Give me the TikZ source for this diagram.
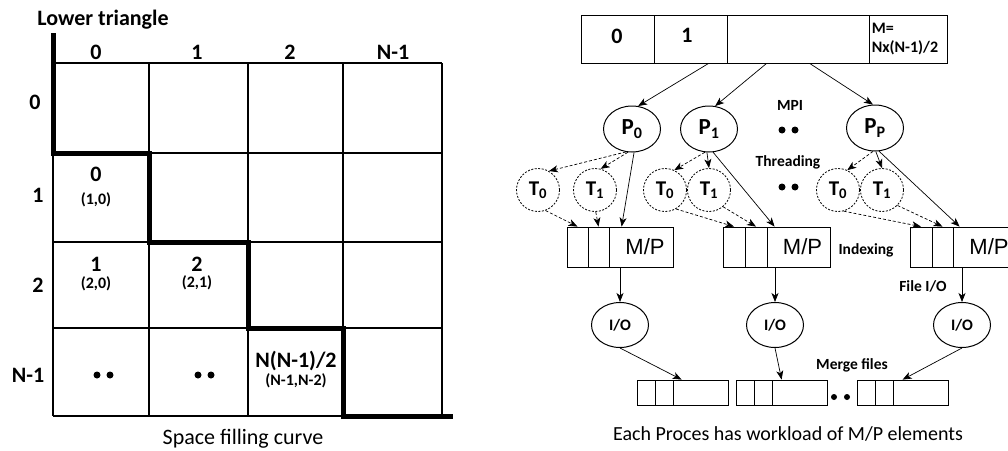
\documentclass[tikz,border=0pt]{standalone}
\usepackage{fontspec}
\setmainfont{Carlito}
\newfontfamily\arialfont{Liberation Sans}
\usetikzlibrary{arrows.meta,shapes.geometric}

\newcommand{\fsz}[1]{\fontsize{#1}{#1}\selectfont}
% a cell of an array: name, left, right, top, bottom, text
\newcommand{\arrcell}[6]{%
  \node[cell, minimum width={#3-#2}, minimum height={#5-#4}] (#1)
    at ({(#2+#3)/2},{(#4+#5)/2}) {#6};}
% two filled dots side by side
\newcommand{\dotpair}[4]{%
  \fill (#1,#3) circle[radius=#4]; \fill (#2,#3) circle[radius=#4];}

\begin{document}
\begin{tikzpicture}[x=1pt,y=-1pt,
  lbl/.style={font=\fsz{22}\bfseries, inner sep=0pt},
  sml/.style={font=\fsz{16}\bfseries, inner sep=0pt},
  note/.style={font=\fsz{15.5}\bfseries, inner sep=0pt},
  caption/.style={font=\fsz{22}, inner sep=0pt, anchor=base},
  gridline/.style={line width=1.4pt},
  sfc/.style={line width=5pt, line join=miter},
  proc/.style={ellipse, draw, line width=1pt, minimum width=57pt,
    minimum height=46pt, inner sep=0pt, font=\fsz{23}\bfseries},
  thr/.style={circle, draw, line width=0.8pt, dash pattern=on 2pt off 1.5pt,
    minimum size=43pt, inner sep=0pt, font=\fsz{21}\bfseries},
  iobub/.style={ellipse, draw, line width=1pt, minimum width=57pt,
    minimum height=45pt, inner sep=0pt, font=\fsz{16}\bfseries},
  cell/.style={rectangle, draw, line width=0.8pt, inner sep=0pt},
  arr/.style={-{Stealth[length=9pt,width=7pt,inset=2.5pt]}, line width=0.7pt},
  darr/.style={arr, dash pattern=on 3pt off 2pt},
]
\useasboundingbox (0,0) rectangle (1008,450);

% ---------------- lower triangle grid ----------------
\foreach \yy in {63,153,242,328,416} \draw[gridline] (53,\yy) -- (442,\yy);
\foreach \xx in {53,149,248,343,442} \draw[gridline] (\xx,63) -- (\xx,416);
\draw[sfc] (53,33) -- (53,153) -- (149,153) -- (149,242) -- (248,242)
  -- (248,328) -- (343,328) -- (343,416) -- (453,416);

\node[lbl] (title) at (103,20) {Lower triangle};
\node[lbl] (c0) at (96,52) {0};
\node[lbl] (c1) at (197,52) {1};
\node[lbl] (c2) at (290,52) {2};
\node[lbl] (c3) at (393,52) {N-1};
\node[lbl] (r0) at (35,102) {0};
\node[lbl] (r1) at (38,195) {1};
\node[lbl] (r2) at (38,285) {2};
\node[lbl] (r3) at (28,375) {N-1};

\node[lbl] (e10) at (96,174) {0};
\node[sml] (i10) at (96,200) {(1,0)};
\node[lbl] (e20) at (96,264) {1};
\node[sml] (i20) at (96,284) {(2,0)};
\node[lbl] (e21) at (197,264) {2};
\node[sml] (i21) at (197,283) {(2,1)};
\node[lbl] (eN) at (296,361) {N(N-1)/2};
\node[sml] (iN) at (296,381) {(N-1,N-2)};
\dotpair{97}{110}{375}{3.5}
\dotpair{198}{211}{375}{3.5}

\node[caption] (sfcap) at (243,444) {Space filling curve};

% ---------------- element array ----------------
\arrcell{top1}{581}{654}{15}{63}{}
\arrcell{top2}{654}{727}{15}{63}{}
\arrcell{top3}{727}{869}{15}{63}{}
\arrcell{top4}{869}{947}{15}{63}{}
\node[lbl] (t0) at (617,36) {0};
\node[lbl] (t1) at (687,35) {1};
\node[note, anchor=west, align=left, font=\fontsize{16}{19}\selectfont\bfseries]
  (mlab) at ([xshift=3]top4.west) {M=\\Nx(N-1)/2};

% ---------------- processes ----------------
\node[proc] (P0) at (632,129) {P\textsubscript{0}};
\node[proc] (P1) at (709,129) {P\textsubscript{1}};
\node[proc] (PP) at (875,128) {P\textsubscript{P}};

\node[thr] (T0a) at (538,190) {T\textsubscript{0}};
\node[thr] (T1a) at (595,190) {T\textsubscript{1}};
\node[thr] (T0b) at (665,190) {T\textsubscript{0}};
\node[thr] (T1b) at (709,190) {T\textsubscript{1}};
\node[thr] (T0c) at (838,190) {T\textsubscript{0}};
\node[thr] (T1c) at (882,190) {T\textsubscript{1}};

% per-process blocks of M/P elements
\arrcell{b1a}{567}{588}{227}{267}{}
\arrcell{b1b}{588}{609}{227}{267}{}
\arrcell{b1c}{609}{673}{227}{267}{\hspace*{8pt}\arialfont\fsz{22}M/P}
\arrcell{b2a}{723}{745}{227}{267}{}
\arrcell{b2b}{745}{767}{227}{267}{}
\arrcell{b2c}{767}{830}{227}{267}{\hspace*{8pt}\arialfont\fsz{22}M/P}
\arrcell{b3a}{910}{932}{227}{267}{}
\arrcell{b3b}{932}{953}{227}{267}{}
\arrcell{b3c}{953}{1017}{227}{267}{\hspace*{8pt}\arialfont\fsz{22}M/P}

\node[iobub] (IOa) at (620,325) {I/O};
\node[iobub] (IOb) at (775,325) {I/O};
\node[iobub] (IOc) at (962,325) {I/O};

% merged output files
\arrcell{m1a}{637}{655}{380}{405}{}
\arrcell{m1b}{655}{673}{380}{405}{}
\arrcell{m1c}{673}{728}{380}{405}{}
\arrcell{m2a}{736}{754}{380}{405}{}
\arrcell{m2b}{754}{772}{380}{405}{}
\arrcell{m2c}{772}{827}{380}{405}{}
\arrcell{m3a}{857}{875}{380}{405}{}
\arrcell{m3b}{875}{893}{380}{405}{}
\arrcell{m3c}{893}{948}{380}{405}{}

% side labels
\node[note] (mpi) at (790,105) {MPI};
\dotpair{782}{795}{130}{3.5}
\node[note] (thrd) at (788,162) {Threading};
\dotpair{782}{795}{187}{3.5}
\node[note] (idx) at (866,250) {Indexing};
\node[note] (fio) at (923,286) {File I/O};
\node[note] (mrg) at (852,365) {Merge files};
\dotpair{834}{847}{397}{3}
\node[caption, font=\fsz{20}] (each) at (788,440) {Each Proces has workload of M/P elements};

% ---------------- connectors ----------------
\draw[arr] ([xshift=55]top2.south west) -- (P0.75);
\draw[arr] ([xshift=40]top3.south west) -- (P1.75);
\draw[arr] ([xshift=83]top3.south west) -- (PP.95);

\draw[darr] (P0.-105) -- (T0a.60);
\draw[darr] (P0.-100) -- (T1a.75);
\draw[arr]  (P0.-85) -- ([xshift=13]b1c.north west);
\draw[darr] (P1.-100) -- (T0b.65);
\draw[arr]  (P1.-95) -- (T1b.north);
\draw[arr]  (P1.-80) -- ([xshift=8]b2c.north west);
\draw[darr] (PP.-95) -- (T0c.65);
\draw[arr]  (PP.-88) -- (T1c.north);
\draw[arr]  (PP.-80) -- ([xshift=7]b3c.north west);

\draw[darr] (T0a.-70) -- (b1a.north);
\draw[darr] (T1a.-88) -- (b1b.north);
\draw[darr] (T0b.-60) -- (b2a.north);
\draw[darr] (T1b.-50) -- (b2b.north);
\draw[darr] (T0c.-75) -- (b3a.north);
\draw[darr] (T1c.-45) -- (b3b.north);

\draw[arr] (IOa.north |- b1c.south) -- (IOa.north);
\draw[arr] (IOb.north |- b2c.south) -- (IOb.north);
\draw[arr] (IOc.north |- b3c.south) -- (IOc.north);

\draw[arr] (IOa.south) -- ([xshift=9]m1c.north west);
\draw[arr] (IOb.south) -- ([xshift=10]m2c.north west);
\draw[arr] (IOc.south) -- ([xshift=10]m3c.north west);
\end{tikzpicture}
\end{document}
